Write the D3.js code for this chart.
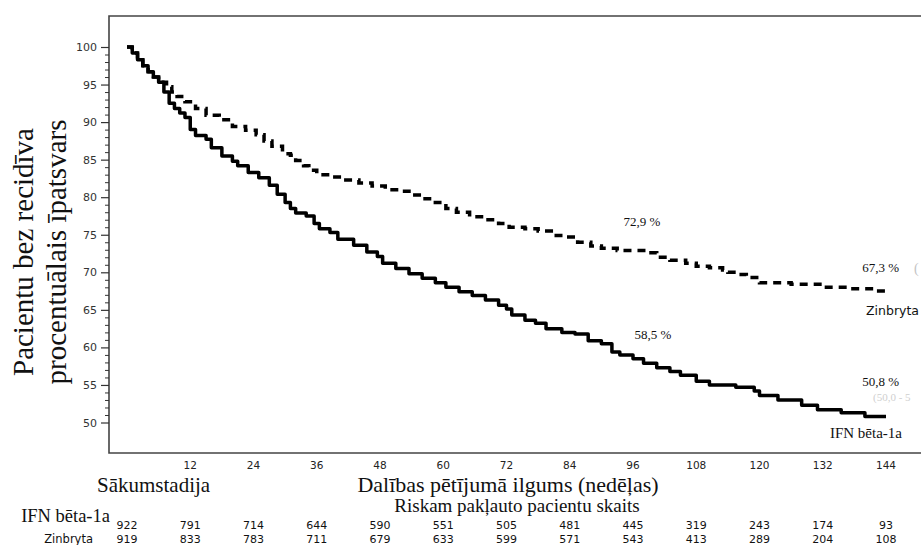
<!DOCTYPE html>
<html>
<head>
<meta charset="utf-8">
<script src="https://cdn.jsdelivr.net/npm/d3@7"></script>
<style>
  html, body { margin: 0; padding: 0; background: #fff; }
  svg { display: block; }
</style>
</head>
<body>
<svg id="chart" width="921" height="545"></svg>
<script>
// ---- Data ----
const weeksAtRisk = [0, 12, 24, 36, 48, 60, 72, 84, 96, 108, 120, 132, 144];
const xTickLabels = [12, 24, 36, 48, 60, 72, 84, 96, 108, 120, 132, 144];
const yMajorTicks = [50, 55, 60, 65, 70, 75, 80, 85, 90, 95, 100];
const atRiskIFN = [922, 791, 714, 644, 590, 551, 505, 481, 445, 319, 243, 174, 93];
const atRiskZin = [919, 833, 783, 711, 679, 633, 599, 571, 543, 413, 289, 204, 108];

// Kaplan-Meier step points [week, % relapse-free]
const ifnWeeks = [0,1,2,3,4,5,6,7,8,9,10,11,12,13,15,16,18,20,21,23,25,27,28.5,30,31,32,34,35.5,36.5,38.5,40,43,45.5,47.5,48.5,51,53.5,56,58.5,60.5,63,65.5,68,70.5,72,73,75.5,77.5,79.5,82.5,85,87.5,90,92,93.5,96,98,100.5,103,105,108,110.5,115.5,119,120,123.5,128,131,135.5,140,144];
const ifnValues = [100,99.2,98.3,97.5,96.7,96.0,95.3,94.0,92.5,91.8,91.2,90.6,89.0,88.2,87.7,86.6,85.5,84.8,84.2,83.3,82.6,81.6,80.4,79.3,78.5,77.9,77.5,76.5,75.8,75.3,74.4,73.6,72.7,72.1,71.2,70.5,69.8,69.2,68.6,68.0,67.4,66.9,66.3,65.6,65.1,64.3,63.6,63.2,62.5,62.0,61.8,60.9,60.5,59.4,59.0,58.5,57.9,57.3,56.8,56.3,55.5,55.0,54.7,54.2,53.6,53.0,52.3,51.7,51.3,50.8,50.8];
const zinWeeks = [0,1,2,3,4,5,6,7.5,8.5,9.5,11,13,15,17.5,20,22.5,24.5,26,27.5,29.5,31,32,33.5,34.5,36,39,41,44,46.5,49,51.5,53.5,56,58.5,60.5,62.5,65,68,70.5,72.5,75.5,78,80.5,83,85.5,88,90,93,99,100.5,103,106,108,110.5,113,114,115.5,117.5,120,126,132,137,142,144];
const zinValues = [100,99.2,98.3,97.5,96.7,96.0,95.3,94.7,94.0,93.4,92.7,91.8,90.9,90.3,89.4,88.9,88.3,87.5,86.8,85.8,85.6,84.9,84.2,83.6,83.0,82.7,82.3,81.9,81.5,81.0,80.8,80.3,79.8,79.3,78.5,78.0,77.4,77.0,76.5,76.0,75.8,75.5,74.9,74.7,74.0,73.5,73.2,72.9,72.6,72.0,71.6,71.2,70.8,70.6,70.3,70.0,69.7,69.3,68.6,68.4,68.0,67.8,67.5,67.3];

// Annotations
const pctLabels = ["72,9 %", "67,3 %", "58,5 %", "50,8 %"];
const pctWeeks = [97.7, 143, 99.8, 143];
const pctValues = [76.1, 70.0, 61.1, 54.8];

// ---- Drawing ----
const svg = d3.select("#chart");
const frame = { left: 109, top: 16, right: 921, bottom: 453 };

const x = d3.scaleLinear().domain([0, 144]).range([127, 886]);
const y = d3.scaleLinear().domain([50, 100]).range([422.5, 47]);

// frame
svg.append("path")
  .attr("d", `M${frame.right},${frame.top}H${frame.left}V${frame.bottom}H${frame.right}`)
  .attr("fill", "none").attr("stroke", "#444").attr("stroke-width", 1.6);

// y axis: minor ticks
const minor = d3.range(50, 101, 1).filter(v => v % 5 !== 0);
const yMinor = svg.append("g").attr("transform", `translate(${frame.left},0)`)
  .call(d3.axisLeft(y).tickValues(minor).tickSize(4).tickFormat(""));
yMinor.select(".domain").remove();
yMinor.selectAll("line").attr("stroke", "#333").attr("stroke-width", 1);

const yAxis = svg.append("g").attr("transform", `translate(${frame.left},0)`)
  .call(d3.axisLeft(y).tickValues(yMajorTicks).tickSize(8).tickPadding(4));
yAxis.select(".domain").remove();
yAxis.selectAll("line").attr("stroke", "#333").attr("stroke-width", 1.2);
yAxis.selectAll("text").attr("font-family", "DejaVu Sans").attr("font-size", 11).attr("fill", "#333");

// y title (two lines)
const yTitle = ["Pacientu bez recidīva", "procentuālais īpatsvars"];
const titleX = [33, 66];
yTitle.forEach((t, i) => {
  svg.append("text")
    .attr("transform", `translate(${titleX[i]},252) rotate(-90)`)
    .attr("text-anchor", "middle")
    .attr("font-family", "Liberation Serif")
    .attr("font-size", 29)
    .attr("fill", "#111")
    .text(t);
});

// x tick labels (no tick marks)
svg.append("g").selectAll("text").data(xTickLabels).join("text")
  .attr("x", d => x(d)).attr("y", 469)
  .attr("text-anchor", "middle")
  .attr("font-family", "DejaVu Sans").attr("font-size", 10.5).attr("fill", "#222")
  .text(d => d);

svg.append("text").attr("x", 97).attr("y", 492)
  .attr("font-family", "Liberation Serif").attr("font-size", 21).attr("fill", "#111")
  .text("Sākumstadija");
svg.append("text").attr("x", 508).attr("y", 492).attr("text-anchor", "middle")
  .attr("font-family", "Liberation Serif").attr("font-size", 22).attr("fill", "#111")
  .text("Dalības pētījumā ilgums (nedēļas)");
svg.append("text").attr("x", 517).attr("y", 512).attr("text-anchor", "middle")
  .attr("font-family", "Liberation Serif").attr("font-size", 19).attr("fill", "#111")
  .text("Riskam pakļauto pacientu skaits");

// at-risk table
svg.append("text").attr("x", 110).attr("y", 522).attr("text-anchor", "end")
  .attr("font-family", "Liberation Serif").attr("font-size", 18.5).attr("fill", "#111")
  .text("IFN bēta-1a");
svg.append("text").attr("x", 93).attr("y", 543).attr("text-anchor", "end")
  .attr("font-family", "DejaVu Sans").attr("font-size", 11.5).attr("fill", "#111")
  .text("Zinbryta");
svg.append("g").selectAll("text").data(atRiskIFN).join("text")
  .attr("x", (d, i) => x(weeksAtRisk[i])).attr("y", 529)
  .attr("text-anchor", "middle")
  .attr("font-family", "DejaVu Sans").attr("font-size", 11).attr("fill", "#111")
  .text(d => d);
svg.append("g").selectAll("text").data(atRiskZin).join("text")
  .attr("x", (d, i) => x(weeksAtRisk[i])).attr("y", 543)
  .attr("text-anchor", "middle")
  .attr("font-family", "DejaVu Sans").attr("font-size", 11).attr("fill", "#111")
  .text(d => d);

// curves
const line = d3.line().x(d => x(d[0])).y(d => y(d[1])).curve(d3.curveStepAfter);
const ifnData = ifnWeeks.map((w, i) => [w, ifnValues[i]]);
const zinData = zinWeeks.map((w, i) => [w, zinValues[i]]);

svg.append("path").datum(ifnData).attr("d", line)
  .attr("fill", "none").attr("stroke", "#000").attr("stroke-width", 3.5)
  .attr("stroke-linejoin", "round");
svg.append("path").datum(zinData).attr("d", line)
  .attr("fill", "none").attr("stroke", "#000").attr("stroke-width", 3.5)
  .attr("stroke-dasharray", "8,6");

// percentage annotations
svg.append("g").selectAll("text").data(pctLabels).join("text")
  .attr("x", (d, i) => x(pctWeeks[i])).attr("y", (d, i) => y(pctValues[i]))
  .attr("text-anchor", "middle")
  .attr("font-family", "Liberation Serif").attr("font-size", 13).attr("fill", "#111")
  .text(d => d);

// series labels at right
svg.append("text").attr("x", x(144) + 33).attr("y", y(64.3))
  .attr("text-anchor", "end")
  .attr("font-family", "DejaVu Sans").attr("font-size", 12.5).attr("fill", "#111")
  .text("Zinbryta");
svg.append("text").attr("x", x(144) + 16).attr("y", y(48.0))
  .attr("text-anchor", "end")
  .attr("font-family", "Liberation Serif").attr("font-size", 15).attr("fill", "#111")
  .text("IFN bēta-1a");

// faint, clipped confidence-interval text at right edge
svg.append("text").attr("x", 914).attr("y", y(69.9))
  .attr("font-family", "Liberation Serif").attr("font-size", 14).attr("fill", "#c4c4c4")
  .text("(");
svg.append("text").attr("x", 873).attr("y", y(52.8))
  .attr("font-family", "Liberation Serif").attr("font-size", 11).attr("fill", "#cfcfcf")
  .text("(50,0 - 5");
</script>
</body>
</html>
